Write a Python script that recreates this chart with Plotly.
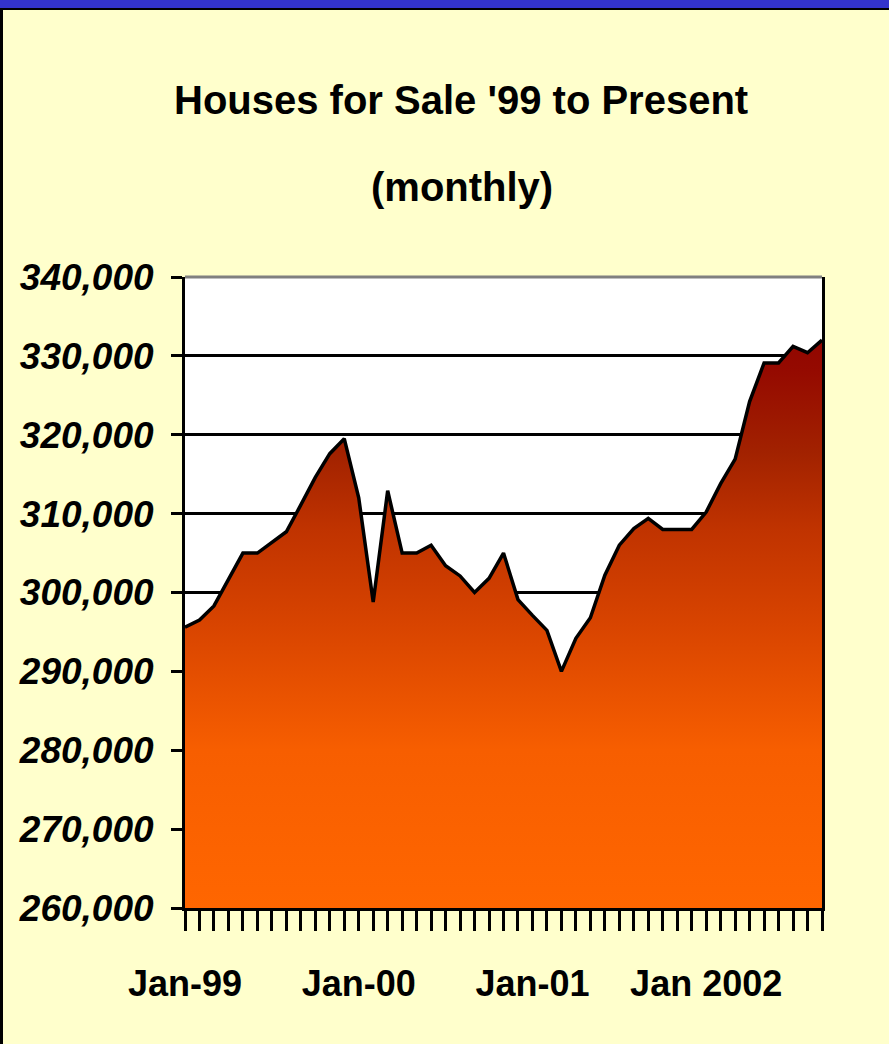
import plotly.graph_objects as go

# ---- data ----
months = [
    "Jan-99", "Feb-99", "Mar-99", "Apr-99", "May-99", "Jun-99", "Jul-99", "Aug-99", "Sep-99", "Oct-99", "Nov-99", "Dec-99",
    "Jan-00", "Feb-00", "Mar-00", "Apr-00", "May-00", "Jun-00", "Jul-00", "Aug-00", "Sep-00", "Oct-00", "Nov-00", "Dec-00",
    "Jan-01", "Feb-01", "Mar-01", "Apr-01", "May-01", "Jun-01", "Jul-01", "Aug-01", "Sep-01", "Oct-01", "Nov-01", "Dec-01",
    "Jan-02", "Feb-02", "Mar-02", "Apr-02", "May-02", "Jun-02", "Jul-02", "Aug-02", "Sep-02",
]
houses_for_sale = [
    295600, 296500, 298300, 301600, 305000, 305000, 306300, 307700, 311100, 314600, 317600, 319500,
    312000, 298800, 312900, 305000, 305000, 306000, 303400, 302100, 300000, 301800, 305000, 299100,
    297100, 295200, 290000, 294200, 296800, 302200, 306000, 308100, 309400, 308000, 308000, 308000,
    310200, 313800, 316900, 324200, 329100, 329100, 331200, 330400, 332000,
]
x_label_map = {"Jan-99": "Jan-99", "Jan-00": "Jan-00", "Jan-01": "Jan-01", "Jan-02": "Jan 2002"}
y_ticks = [260000, 270000, 280000, 290000, 300000, 310000, 320000, 330000, 340000]
title_line1 = "Houses for Sale '99 to Present"
title_line2 = "(monthly)"

FONT = "Liberation Sans Narrow, Arial Narrow, Liberation Sans, Arial, sans-serif"

fig = go.Figure()
fig.add_trace(go.Scatter(
    x=months,
    y=houses_for_sale,
    mode="lines",
    line=dict(color="black", width=3.5),
    fill="tozeroy",
    fillgradient=dict(
        type="vertical",
        start=260000,
        stop=340000,
        colorscale=[
            [0.0, "#FF6600"],
            [0.25, "#F75E00"],
            [0.45, "#D84400"],
            [0.6, "#C03300"],
            [0.72, "#A22200"],
            [0.85, "#950A00"],
            [1.0, "#880000"],
        ],
    ),
    hoverinfo="skip",
    showlegend=False,
))

fig.update_layout(
    width=889,
    height=1044,
    margin=dict(l=185, r=67, t=277, b=136),
    paper_bgcolor="#FFFFCC",
    plot_bgcolor="#FFFFFF",
    showlegend=False,
    xaxis=dict(
        type="category",
        range=[0, len(months) - 1],
        tickmode="array",
        tickvals=months,
        ticktext=[x_label_map.get(m, "") for m in months],
        ticks="outside",
        ticklen=20,
        tickwidth=3,
        tickcolor="black",
        showline=True,
        linewidth=3,
        linecolor="black",
        showgrid=False,
        tickangle=0,
        automargin=False,
        ticklabelstandoff=22,
        tickfont=dict(family=FONT, size=36, color="black", weight="bold"),
    ),
    yaxis=dict(
        range=[260000, 340000],
        tickmode="array",
        tickvals=y_ticks,
        ticktext=[f"{v:,}" for v in y_ticks],
        ticks="outside",
        ticklen=11,
        tickwidth=3,
        tickcolor="black",
        showline=True,
        linewidth=3,
        linecolor="black",
        mirror=True,
        showgrid=True,
        gridcolor="black",
        gridwidth=3,
        zeroline=False,
        automargin=False,
        ticklabelstandoff=10,
        tickfont=dict(family=FONT, size=37, color="black", weight="bold", style="italic"),
    ),
    annotations=[
        dict(text=title_line1, xref="paper", yref="paper", x=(461 - 185) / 637, y=(908 - 99.5) / 631,
             xanchor="center", yanchor="middle", showarrow=False,
             font=dict(family=FONT, size=40, color="black", weight="bold")),
        dict(text=title_line2, xref="paper", yref="paper", x=(462 - 185) / 637, y=(908 - 187) / 631,
             xanchor="center", yanchor="middle", showarrow=False,
             font=dict(family=FONT, size=40, color="black", weight="bold")),
    ],
    shapes=[
        # top plot-area border (gray)
        dict(type="line", xref="paper", yref="paper", x0=0, x1=1, y0=1, y1=1,
             line=dict(color="#808080", width=3), layer="above"),
        # blue band at page top
        dict(type="rect", xref="paper", yref="paper", xsizemode="pixel", ysizemode="pixel",
             xanchor=0, yanchor=1, x0=-190, x1=710, y0=280, y1=269,
             fillcolor="#3333CC", line=dict(width=0), layer="above"),
        # black line under the blue band
        dict(type="rect", xref="paper", yref="paper", xsizemode="pixel", ysizemode="pixel",
             xanchor=0, yanchor=1, x0=-182, x1=710, y0=269, y1=267,
             fillcolor="#000000", line=dict(width=0), layer="above"),
        # left black border
        dict(type="rect", xref="paper", yref="paper", xsizemode="pixel", ysizemode="pixel",
             xanchor=0, yanchor=1, x0=-190, x1=-182, y0=269, y1=-780,
             fillcolor="#000000", line=dict(width=0), layer="above"),
    ],
)

fig.write_html(
    "out.html",
    config={"displayModeBar": False},
    post_script="document.body.style.margin='0';document.body.style.overflow='hidden';",
)
